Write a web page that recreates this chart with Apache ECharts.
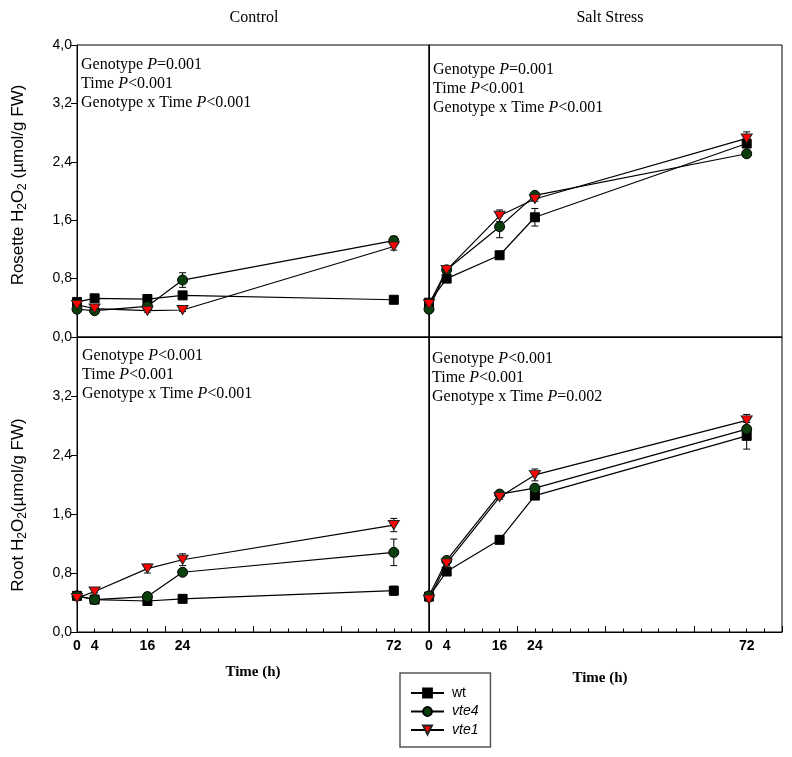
<!DOCTYPE html>
<html>
<head>
<meta charset="utf-8">
<script src="https://cdn.jsdelivr.net/npm/echarts@6/dist/echarts.min.js"></script>
<style>html,body{margin:0;padding:0;background:#fff;}#c{width:792px;height:757px;}</style>
</head>
<body>
<div id="c"></div>
<script>
// ---- data ----
const hours = [0, 4, 16, 24, 72];
const xTickLabels = [0, 4, 16, 24, 72];
const yTicks = [0, 0.8, 1.6, 2.4, 3.2, 4.0];
const genotypes = ['wt', 'vte4', 'vte1'];
const panelTitles = ['Control', 'Salt Stress'];

// Rosette, control
const ctrlRosette_wt   = [0.48, 0.53, 0.52, 0.57, 0.51];
const ctrlRosette_vte4 = [0.38, 0.36, 0.42, 0.78, 1.32];
const ctrlRosette_vte1 = [0.44, 0.39, 0.36, 0.37, 1.24];
const ctrlRosette_wt_err   = [0.02, 0.03, 0.02, 0.02, 0.03];
const ctrlRosette_vte4_err = [0.02, 0.02, 0.03, 0.10, 0.06];
const ctrlRosette_vte1_err = [0.02, 0.02, 0.02, 0.02, 0.05];
// Rosette, salt
const saltRosette_wt   = [0.47, 0.80, 1.12, 1.64, 2.65];
const saltRosette_vte4 = [0.38, 0.92, 1.51, 1.94, 2.51];
const saltRosette_vte1 = [0.45, 0.92, 1.66, 1.89, 2.72];
const saltRosette_wt_err   = [0.02, 0.03, 0.03, 0.12, 0.05];
const saltRosette_vte4_err = [0.02, 0.03, 0.15, 0.03, 0.03];
const saltRosette_vte1_err = [0.02, 0.03, 0.08, 0.03, 0.09];
// Root, control
const ctrlRoot_wt   = [0.49, 0.44, 0.42, 0.45, 0.56];
const ctrlRoot_vte4 = [0.49, 0.44, 0.48, 0.81, 1.08];
const ctrlRoot_vte1 = [0.46, 0.55, 0.86, 0.98, 1.45];
const ctrlRoot_wt_err   = [0.02, 0.02, 0.02, 0.02, 0.06];
const ctrlRoot_vte4_err = [0.02, 0.02, 0.02, 0.03, 0.18];
const ctrlRoot_vte1_err = [0.02, 0.02, 0.06, 0.08, 0.09];
// Root, salt
const saltRoot_wt   = [0.48, 0.82, 1.25, 1.85, 2.66];
const saltRoot_vte4 = [0.49, 0.97, 1.87, 1.95, 2.75];
const saltRoot_vte1 = [0.44, 0.93, 1.83, 2.13, 2.87];
const saltRoot_wt_err   = [0.02, 0.03, 0.05, 0.03, 0.18];
const saltRoot_vte4_err = [0.02, 0.03, 0.03, 0.04, 0.05];
const saltRoot_vte1_err = [0.02, 0.03, 0.03, 0.08, 0.08];

const statsText = [
  ['Genotype {i|P}=0.001', 'Time {i|P}<0.001', 'Genotype x Time {i|P}<0.001'],
  ['Genotype {i|P}=0.001', 'Time {i|P}<0.001', 'Genotype x Time {i|P}<0.001'],
  ['Genotype {i|P}<0.001', 'Time {i|P}<0.001', 'Genotype x Time {i|P}<0.001'],
  ['Genotype {i|P}<0.001', 'Time {i|P}<0.001', 'Genotype x Time {i|P}=0.002']
];

// ---- build ----
const panels = [
  {vals: [ctrlRosette_wt, ctrlRosette_vte4, ctrlRosette_vte1], errs: [ctrlRosette_wt_err, ctrlRosette_vte4_err, ctrlRosette_vte1_err]},
  {vals: [saltRosette_wt, saltRosette_vte4, saltRosette_vte1], errs: [saltRosette_wt_err, saltRosette_vte4_err, saltRosette_vte1_err]},
  {vals: [ctrlRoot_wt, ctrlRoot_vte4, ctrlRoot_vte1], errs: [ctrlRoot_wt_err, ctrlRoot_vte4_err, ctrlRoot_vte1_err]},
  {vals: [saltRoot_wt, saltRoot_vte4, saltRoot_vte1], errs: [saltRoot_wt_err, saltRoot_vte4_err, saltRoot_vte1_err]}
];

const grids = [
  {left: 77, top: 45, width: 352, height: 292},
  {left: 429, top: 45, width: 353, height: 292},
  {left: 77, top: 337, width: 352, height: 295},
  {left: 429, top: 337, width: 353, height: 295}
].map(g => Object.assign({show: true, borderColor: '#000', borderWidth: 1, backgroundColor: 'transparent'}, g));

const sans = '"Liberation Sans", Arial, sans-serif';
const serif = '"Liberation Serif", "Times New Roman", serif';

const xAxes = grids.map((g, i) => {
  const bottom = i >= 2;
  return {
    gridIndex: i, type: 'value', min: 0, max: 80, interval: 20,
    axisLine: {show: true, onZero: false, lineStyle: {color: '#000', width: 1}},
    axisTick: {show: bottom, inside: true, length: 6, lineStyle: {color: '#000'}},
    minorTick: {show: bottom, splitNumber: 5, length: 3.5, lineStyle: {color: '#000'}},
    splitLine: {show: false},
    axisLabel: {show: bottom, customValues: xTickLabels, color: '#000', fontFamily: sans, fontSize: 14, fontWeight: 'bold', margin: 7}
  };
});

const yAxes = grids.map((g, i) => {
  const left = (i % 2 === 0);
  return {
    gridIndex: i, type: 'value', min: 0, max: 4, interval: 0.8,
    axisLine: {show: true, onZero: false, lineStyle: {color: '#000', width: 1}},
    axisTick: {show: left, length: 6, lineStyle: {color: '#000'}},
    splitLine: {show: false},
    axisLabel: {
      show: left, color: '#000', fontFamily: sans, fontSize: 14, margin: 5,
      showMaxLabel: i === 0,
      formatter: v => v.toFixed(1).replace('.', ',')
    }
  };
});

const symbols = [
  {symbol: 'rect', size: 9, color: '#000000', rotate: 0, border: '#000'},
  {symbol: 'circle', size: 10, color: '#0b3f0b', rotate: 0, border: '#000'},
  {symbol: 'triangle', size: [11, 9], color: '#ff0000', rotate: 180, border: '#222'}
];

const series = [];
panels.forEach((p, i) => {
  genotypes.forEach((gname, k) => {
    const vals = p.vals[k], errs = p.errs[k];
    series.push({
      type: 'custom', xAxisIndex: i, yAxisIndex: i, z: 2, silent: true,
      data: hours.map((h, j) => [h, vals[j] - errs[j], vals[j] + errs[j]]),
      renderItem: (params, api) => {
        const lo = api.coord([api.value(0), api.value(1)]);
        const hi = api.coord([api.value(0), api.value(2)]);
        const cw = 3.5;
        return {type: 'group', children: [
          {type: 'line', shape: {x1: lo[0], y1: lo[1], x2: hi[0], y2: hi[1]}, style: {stroke: '#000', lineWidth: 1}},
          {type: 'line', shape: {x1: hi[0] - cw, y1: hi[1], x2: hi[0] + cw, y2: hi[1]}, style: {stroke: '#000', lineWidth: 1}},
          {type: 'line', shape: {x1: lo[0] - cw, y1: lo[1], x2: lo[0] + cw, y2: lo[1]}, style: {stroke: '#000', lineWidth: 1}}
        ]};
      }
    });
  });
  genotypes.forEach((gname, k) => {
    const s = symbols[k];
    series.push({
      name: gname, type: 'line', xAxisIndex: i, yAxisIndex: i, z: 3 + k,
      data: hours.map((h, j) => [h, p.vals[k][j]]),
      symbol: s.symbol, symbolSize: s.size, symbolRotate: s.rotate, showAllSymbol: true,
      itemStyle: {color: s.color, borderColor: s.border, borderWidth: 1},
      lineStyle: {color: '#000', width: 1.2}
    });
  });
});

const graphics = [];
graphics.push({type: 'text', x: 254, y: 18, style: {text: panelTitles[0], font: '16px ' + serif, fill: '#000', align: 'center', verticalAlign: 'middle'}});
graphics.push({type: 'text', x: 610, y: 18, style: {text: panelTitles[1], font: '16px ' + serif, fill: '#000', align: 'center', verticalAlign: 'middle'}});
graphics.push({type: 'text', x: 253, y: 672, style: {text: 'Time (h)', font: 'bold 15px ' + serif, fill: '#000', align: 'center', verticalAlign: 'middle'}});
graphics.push({type: 'text', x: 600, y: 678, style: {text: 'Time (h)', font: 'bold 15px ' + serif, fill: '#000', align: 'center', verticalAlign: 'middle'}});

const statPos = [[81, 55.5], [433, 60.5], [82, 346.5], [432, 349.5]];
statsText.forEach((lines, i) => {
  graphics.push({
    type: 'text', x: statPos[i][0], y: statPos[i][1],
    style: {
      text: lines.join('\n'), fontFamily: serif, fontSize: 16, lineHeight: 19, fill: '#000',
      rich: {i: {fontFamily: serif, fontSize: 16, fontStyle: 'italic', lineHeight: 19, fill: '#000'}}
    }
  });
});

const yTitleRich = {
  n: {fontFamily: sans, fontSize: 17, fill: '#000', lineHeight: 24},
  s: {fontFamily: sans, fontSize: 12, fill: '#000', lineHeight: 24, padding: [9, 0, 0, 0]}
};
graphics.push({type: 'text', x: 18, y: 185, rotation: Math.PI / 2,
  style: {text: '{n|Rosette H}{s|2}{n|O}{s|2}{n| (µmol/g FW)}', align: 'center', verticalAlign: 'middle', rich: yTitleRich}});
graphics.push({type: 'text', x: 18, y: 505, rotation: Math.PI / 2,
  style: {text: '{n|Root H}{s|2}{n|O}{s|2}{n|(µmol/g FW)}', align: 'center', verticalAlign: 'middle', rich: yTitleRich}});

const option = {
  animation: false,
  backgroundColor: '#fff',
  grid: grids,
  xAxis: xAxes,
  yAxis: yAxes,
  legend: {
    data: genotypes, orient: 'vertical', left: 400, top: 673,
    padding: [13, 12, 10, 10], itemGap: 4.5, itemWidth: 33, itemHeight: 11,
    borderColor: '#555', borderWidth: 1.5, backgroundColor: '#fff',
    selectedMode: false,
    textStyle: {fontFamily: sans, fontSize: 14, color: '#000', padding: [0, 0, 0, 3], rich: {it: {fontFamily: sans, fontSize: 14, fontStyle: 'italic', color: '#000'}}},
    formatter: n => n === 'wt' ? n : '{it|' + n + '}'
  },
  graphic: graphics,
  series: series
};

const chart = echarts.init(document.getElementById('c'), null, {renderer: 'canvas'});
chart.setOption(option);
</script>
</body>
</html>
